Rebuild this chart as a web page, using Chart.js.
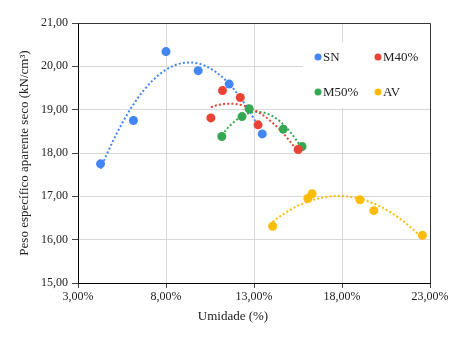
<!DOCTYPE html>
<html>
<head>
<meta charset="utf-8">
<script src="https://cdn.jsdelivr.net/npm/chart.js@4.4.1/dist/chart.umd.min.js"></script>
<style>
  html, body { margin: 0; padding: 0; background: #fff; }
  #wrap { width: 464px; height: 343px; position: relative; }
</style>
</head>
<body>
<div id="wrap"><canvas id="c" width="464" height="343"></canvas></div>
<script>
// ---- data ----
const seriesNames = ['SN', 'M40%', 'M50%', 'AV'];
const seriesColors = ['#4285F4', '#EA4335', '#34A853', '#FBBC04'];

const snX   = [4.28, 6.15, 8.00, 9.83, 11.59, 13.47];
const snY   = [17.75, 18.75, 20.34, 19.90, 19.59, 18.44];
const m40X  = [10.55, 11.21, 12.22, 13.23, 15.51];
const m40Y  = [18.81, 19.44, 19.28, 18.65, 18.08];
const m50X  = [11.17, 12.32, 12.72, 14.66, 15.73];
const m50Y  = [18.38, 18.84, 19.02, 18.55, 18.15];
const avX   = [14.06, 16.06, 16.30, 19.02, 19.81, 22.57];
const avY   = [16.31, 16.95, 17.06, 16.92, 16.67, 16.10];

const xTicks = [3, 8, 13, 18, 23];
const yTicks = [15, 16, 17, 18, 19, 20, 21];
const xTitle = 'Umidade (%)';
const yTitle = 'Peso específico aparente seco (kN/cm³)';

const FONT = '"Liberation Serif", "Times New Roman", serif';

// polynomial (order 2) trendline, as in the source spreadsheet chart
function quadFit(xs, ys) {
  let S = [0,0,0,0,0], T = [0,0,0];
  for (let i = 0; i < xs.length; i++) {
    let p = 1;
    for (let k = 0; k < 5; k++) { S[k] += p; if (k < 3) T[k] += p * ys[i]; p *= xs[i]; }
  }
  const A = [[S[0],S[1],S[2],T[0]],[S[1],S[2],S[3],T[1]],[S[2],S[3],S[4],T[2]]];
  for (let c = 0; c < 3; c++) {
    let piv = c;
    for (let r = c+1; r < 3; r++) if (Math.abs(A[r][c]) > Math.abs(A[piv][c])) piv = r;
    [A[c], A[piv]] = [A[piv], A[c]];
    for (let r = 0; r < 3; r++) if (r !== c) {
      const f = A[r][c] / A[c][c];
      for (let k = c; k < 4; k++) A[r][k] -= f * A[c][k];
    }
  }
  return [A[0][3]/A[0][0], A[1][3]/A[1][1], A[2][3]/A[2][2]];
}
function trend(xs, ys) {
  const [a, b, c] = quadFit(xs, ys);
  const lo = Math.min(...xs), hi = Math.max(...xs), n = 60, out = [];
  for (let i = 0; i <= n; i++) { const x = lo + (hi - lo) * i / n; out.push({x, y: a + b*x + c*x*x}); }
  return out;
}
function pts(xs, ys) { return xs.map((x, i) => ({x, y: ys[i]})); }

const allX = [snX, m40X, m50X, avX];
const allY = [snY, m40Y, m50Y, avY];

const datasets = [];
seriesNames.forEach((name, i) => {
  datasets.push({
    label: name, data: pts(allX[i], allY[i]),
    backgroundColor: seriesColors[i], borderColor: seriesColors[i],
    pointRadius: 4.5, pointHoverRadius: 4.5, pointBorderWidth: 0, showLine: false, order: 1
  });
});
seriesNames.forEach((name, i) => {
  datasets.push({
    label: name + ' trend', isTrend: true, data: trend(allX[i], allY[i]),
    borderColor: seriesColors[i], borderWidth: 2, borderDash: [2, 2.2],
    pointRadius: 0, showLine: true, fill: false, order: 2, tension: 0
  });
});

const fmt = v => v.toFixed(2).replace('.', ',');

const decor = {
  id: 'decor',
  beforeDatasetsDraw(chart) {
    const {ctx, chartArea: a} = chart;
    ctx.save();
    // top & right frame of plot area
    ctx.strokeStyle = '#333'; ctx.lineWidth = 1;
    ctx.beginPath();
    ctx.moveTo(a.left, a.top + 0.5); ctx.lineTo(a.right + 0.5, a.top + 0.5); ctx.lineTo(a.right + 0.5, a.bottom);
    ctx.stroke();
    // legend box
    ctx.fillStyle = '#fff';
    ctx.fillRect(303, 42, a.right - 303, 66);
    const items = chart.data.datasets.filter(d => !d.isTrend);
    const pos = [[318, 57], [378, 57], [318, 92], [378, 92]];
    ctx.font = '13px ' + FONT; ctx.textBaseline = 'middle'; ctx.textAlign = 'left';
    items.forEach((d, i) => {
      const [x, y] = pos[i];
      ctx.fillStyle = d.backgroundColor;
      ctx.beginPath(); ctx.arc(x, y, 3.5, 0, Math.PI*2); ctx.fill();
      ctx.fillStyle = '#222';
      ctx.fillText(d.label, x + 5, y + 0.5);
    });
    ctx.restore();
  },
  afterDraw(chart) {
    const {ctx} = chart;
    ctx.save();
    ctx.font = '13px ' + FONT; ctx.fillStyle = '#222';
    ctx.textAlign = 'center'; ctx.textBaseline = 'middle';
    ctx.fillText(xTitle, 233, 317);
    ctx.restore();
  }
};

new Chart(document.getElementById('c'), {
  type: 'scatter',
  data: { datasets },
  options: {
    responsive: false, animation: false, devicePixelRatio: 1,
    layout: { padding: { left: 0, right: 34, top: 23, bottom: 0 } },
    plugins: { legend: { display: false }, tooltip: { enabled: false }, title: { display: false } },
    scales: {
      x: {
        type: 'linear', min: 3, max: 23,
        afterBuildTicks: s => { s.ticks = xTicks.map(v => ({value: v})); },
        afterFit: s => { s.height = 60; },
        ticks: { callback: v => fmt(v) + '%', color: '#222', font: { family: FONT, size: 12 }, padding: 2, maxRotation: 0 },
        grid: { color: '#d9d9d9', tickColor: '#444', tickLength: 5, lineWidth: 1 },
        border: { color: '#000', width: 1 }
      },
      y: {
        type: 'linear', min: 15, max: 21,
        afterBuildTicks: s => { s.ticks = yTicks.map(v => ({value: v})); },
        afterFit: s => { s.width = 78; },
        ticks: { callback: v => fmt(v), color: '#222', font: { family: FONT, size: 12 }, padding: 4 },
        grid: { color: '#d9d9d9', tickColor: '#444', tickLength: 6, lineWidth: 1 },
        border: { color: '#000', width: 1 },
        title: { display: true, text: yTitle, color: '#222', font: { family: FONT, size: 13 }, padding: { top: 17, bottom: 0 } }
      }
    }
  },
  plugins: [decor]
});
</script>
</body>
</html>
